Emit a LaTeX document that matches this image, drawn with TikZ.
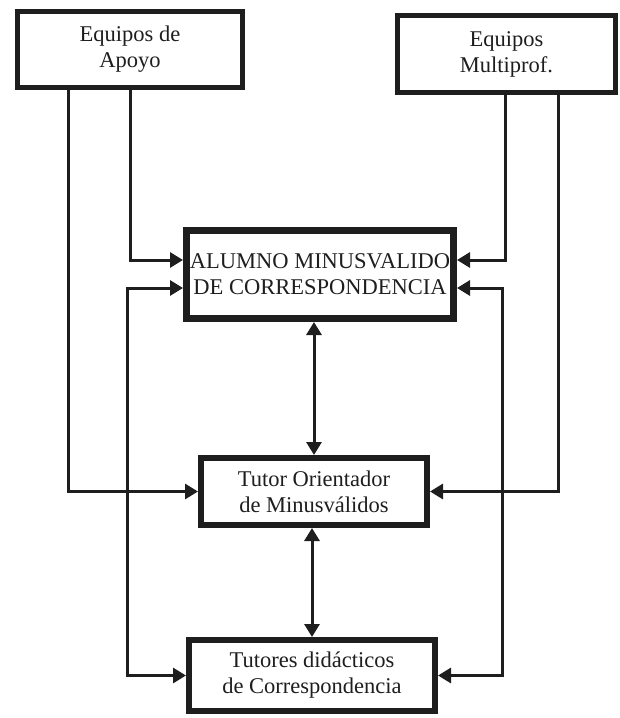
\documentclass[tikz,border=0pt]{standalone}
\usepackage{fontspec}
\setmainfont{Liberation Serif}
\usetikzlibrary{arrows.meta}
\definecolor{ink}{HTML}{1E1E1E}
\tikzset{
  box/.style={draw=ink, rectangle, align=center, text=ink, inner sep=0pt,
    font=\fontsize{22.5}{26}\selectfont},
  thinbox/.style={box, line width=5pt},
  thickbox/.style={box, line width=7pt},
  link/.style={draw=ink, line width=3pt, line join=miter},
  tip/.style={-{Triangle[length=13pt,width=15pt]}},
  bitip/.style={{Triangle[length=13pt,width=15pt]}-{Triangle[length=13pt,width=15pt]}},
}
\begin{document}
\begin{tikzpicture}[x=1pt,y=-1pt]
\useasboundingbox (0,0) rectangle (620,718);
\node[thinbox, minimum width=225pt, minimum height=76pt] (tl) at (130,49.5) {Equipos de\\Apoyo};
\node[thinbox, minimum width=218pt, minimum height=77pt] (tr) at (506.5,54) {Equipos\\Multiprof.};
\node[thickbox, minimum width=267pt, minimum height=88pt] (ca) at (320,274.5) {ALUMNO MINUSVALIDO\\DE CORRESPONDENCIA};
\node[thinbox, line width=6pt, minimum width=226pt, minimum height=67pt] (to) at (314,491.5) {Tutor Orientador\\de Minusválidos};
\node[thinbox, line width=6pt, minimum width=246pt, minimum height=71pt] (td) at (312,675.5) {Tutores didácticos\\de Correspondencia};

% left side
\draw[link, tip] (tl.south) |- ([yshift=14.5pt]ca.west);
\draw[link, tip] ([xshift=-62pt]tl.south) |- (to.west);
\draw[link, bitip] ([yshift=-13.5pt]ca.west) -| ([xshift=-59pt]td.west) -- (td.west);
% right side
\draw[link, tip] ([xshift=-1.5pt]tr.south) |- ([yshift=14.5pt]ca.east);
\draw[link, tip] ([xshift=51.5pt]tr.south) |- (to.east);
\draw[link, bitip] ([yshift=-13.5pt]ca.east) -| ([xshift=64pt]td.east) -- (td.east);
% centre
\draw[link, bitip] (to.north |- ca.south) -- (to.north);
\draw[link, bitip] (td.north |- to.south) -- (td.north);
\end{tikzpicture}
\end{document}
